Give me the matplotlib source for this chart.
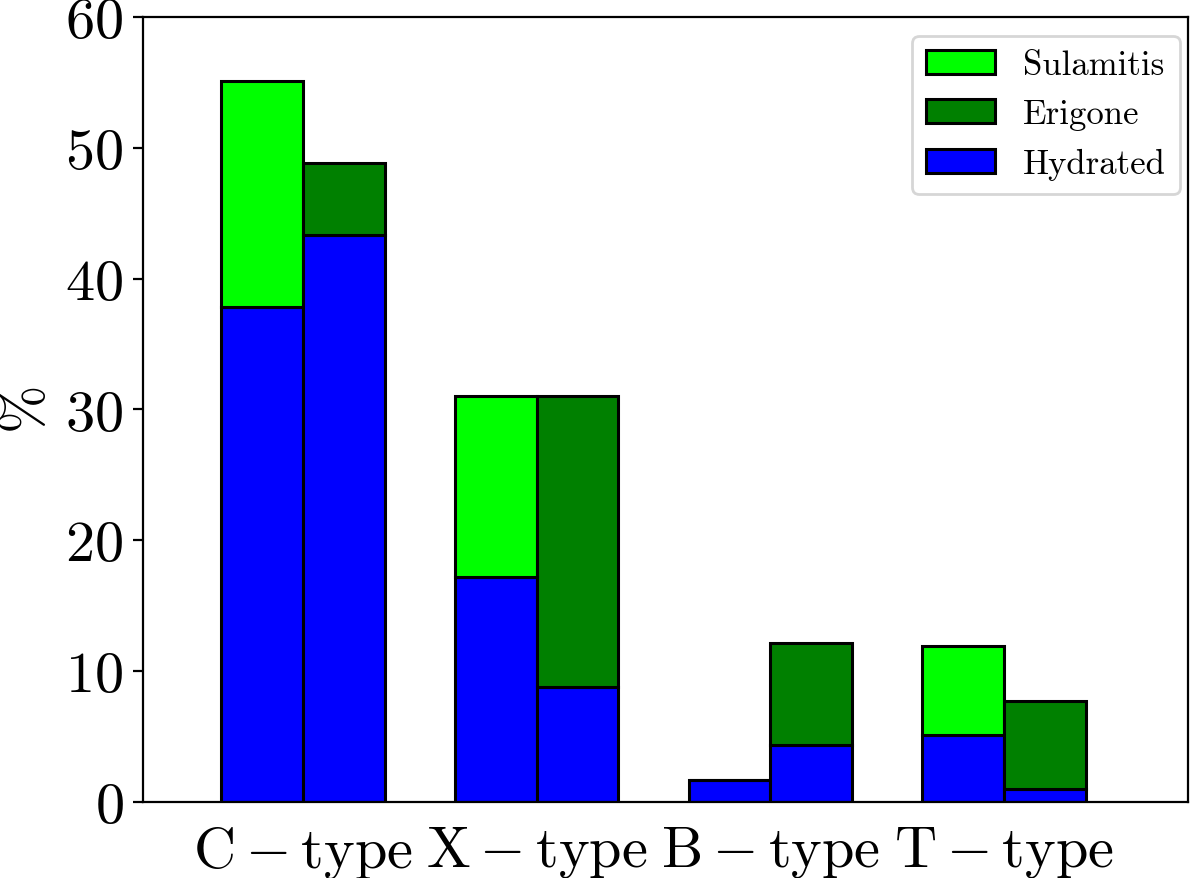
import numpy as np
import matplotlib
matplotlib.use("Agg")
import matplotlib.pyplot as plt

# Data (percent)
categories = [r'$\mathrm{C-type}$', r'$\mathrm{X-type}$', r'$\mathrm{B-type}$', r'$\mathrm{T-type}$']
sulamitis_total = [55.1, 31.0, 1.7, 11.9]
sulamitis_hydrated = [37.8, 17.2, 1.7, 5.1]
erigone_total = [48.85, 31.05, 12.15, 7.7]
erigone_hydrated = [43.3, 8.8, 4.35, 1.0]

plt.rcParams['mathtext.fontset'] = 'cm'
plt.rcParams['font.family'] = 'serif'
plt.rcParams['font.serif'] = ['cmr10']
plt.rcParams['axes.formatter.use_mathtext'] = True

x = np.arange(len(categories))
width = 0.35

sul_rest = np.array(sulamitis_total) - np.array(sulamitis_hydrated)
eri_rest = np.array(erigone_total) - np.array(erigone_hydrated)

fig = plt.figure(figsize=(6, 4.395), dpi=200)
ax = fig.add_axes([0.119, 0.0865, 0.871, 0.893])

edge = dict(edgecolor='black', linewidth=1.1)
h_hyd = ax.bar(x - width / 2, sulamitis_hydrated, width, color='#0000ff', **edge)
h_sul = ax.bar(x - width / 2, sul_rest, width, bottom=sulamitis_hydrated, color='#00ff00', **edge)
ax.bar(x + width / 2, erigone_hydrated, width, color='#0000ff', **edge)
h_eri = ax.bar(x + width / 2, eri_rest, width, bottom=erigone_hydrated, color='#008000', **edge)

ax.set_xticks(x)
ax.set_xticklabels(categories, fontsize=21)
ax.tick_params(axis='x', length=0, pad=8)
ax.tick_params(axis='y', labelsize=21)
ax.set_xlim(-0.684, 3.786)
ax.set_ylim(0, 60)
ax.set_ylabel(r'$\%$', fontsize=21)

ax.legend([h_sul, h_eri, h_hyd], ['Sulamitis', 'Erigone', 'Hydrated'],
          loc='upper right', bbox_to_anchor=(0.992, 0.976), borderaxespad=0,
          fontsize=12.5, labelspacing=0.5)

fig.savefig('out.png', dpi=200)
